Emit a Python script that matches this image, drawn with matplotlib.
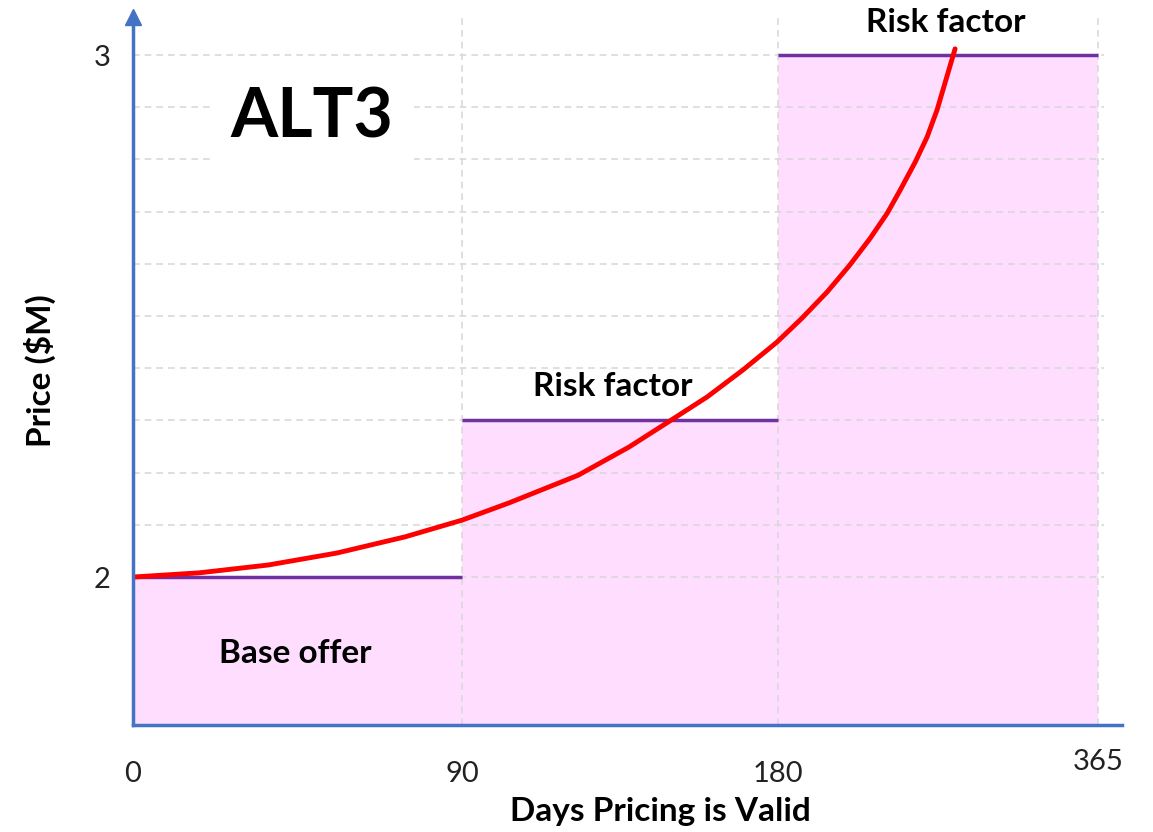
import numpy as np
import matplotlib.pyplot as plt
from matplotlib.transforms import ScaledTranslation

plt.rcParams['font.family'] = ['Lato', 'DejaVu Sans']

# x axis is drawn as periods, labelled in days
tick_pos = [0, 1.023, 2.006, 3.0]
tick_days = ['0', '90', '180', '365']

# price levels of the three periods ($M)
period_top = [2.0, 2.3, 3.0]
period_labels = ['Base offer', 'Risk factor', 'Risk factor']

# red price curve (x in axis units)
curve_pos = [0.000, 0.205, 0.420, 0.634, 0.846, 1.023, 1.169, 1.384, 1.542,
             1.664, 1.785, 1.897, 2.002, 2.080, 2.158, 2.229, 2.292, 2.345,
             2.385, 2.432, 2.469, 2.500, 2.534, 2.556]
curve_price = [2.000, 2.008, 2.023, 2.046, 2.077, 2.109, 2.142, 2.195, 2.249,
               2.297, 2.345, 2.397, 2.450, 2.496, 2.546, 2.598, 2.649, 2.697,
               2.741, 2.795, 2.843, 2.895, 2.966, 3.012]

blue = '#4472C4'
pink = '#FFDDFF'
purple = '#7030A0'
grid_c = '#D9D9D9'

fig = plt.figure(figsize=(11.53, 8.32), dpi=100)
ax = fig.add_axes([133 / 1153, 1 - 725 / 832, (1122 - 133) / 1153, (725 - 17) / 832])

y_lo, y_hi = 1.7165, 3.073
ax.set_xlim(0, 3.075)
ax.set_ylim(y_lo, y_hi)

# grid
ax.hlines(np.linspace(2.0, 3.0, 11), 0, 3.02, colors=grid_c, linestyles=(0, (4, 3)),
          linewidth=1.2, zorder=2)
ax.vlines(tick_pos[1:], y_lo, y_hi + 0.01, colors=grid_c, linestyles=(0, (4, 3)),
          linewidth=1.2, zorder=2)

# pink periods with purple caps
lefts = tick_pos[:-1]
rights = tick_pos[1:]
for left, right, top in zip(lefts, rights, period_top):
    ax.bar(left, top - y_lo, width=right - left, bottom=y_lo, align='edge',
           color=pink, edgecolor='none', zorder=1)
ax.hlines(period_top, lefts, rights, colors=purple, linewidth=2.5, zorder=3)

ax.plot(curve_pos, curve_price, color='#FF0000', linewidth=3.5,
        solid_capstyle='round', solid_joinstyle='round', zorder=5)

# text labels
ax.text(0.504, 1.854, period_labels[0], fontsize=24, fontweight='bold',
        ha='center', va='center', zorder=4)
ax.text(1.493, 2.366, period_labels[1], fontsize=24, fontweight='bold',
        ha='center', va='center', zorder=4,
        bbox=dict(facecolor='white', edgecolor='none', pad=2))
ax.text(2.528, 3.063, period_labels[2], fontsize=24, fontweight='bold',
        ha='center', va='center', zorder=4)
ax.text(0.557, 2.88, 'ALT3', fontsize=49, fontweight='bold', ha='center',
        va='center', zorder=4,
        bbox=dict(boxstyle='square,pad=0.3', facecolor='white', edgecolor='none'))

# axes
for s in ['top', 'right']:
    ax.spines[s].set_visible(False)
for s in ['left', 'bottom']:
    ax.spines[s].set_color(blue)
    ax.spines[s].set_linewidth(2.5)
    ax.spines[s].set_zorder(6)
ax.plot(0, 1, marker='^', color=blue, markersize=11, transform=ax.transAxes,
        clip_on=False, zorder=7)

ax.set_xticks(tick_pos)
ax.set_xticklabels(tick_days)
ax.set_yticks([2, 3])
ax.set_yticklabels(['2', '3'])
ax.tick_params(axis='both', length=0, labelsize=21, colors='#222222')
ax.tick_params(axis='x', pad=26)
ax.tick_params(axis='y', pad=16)
last = ax.get_xticklabels()[-1]
last.set_transform(last.get_transform() + ScaledTranslation(0, 0.12, fig.dpi_scale_trans))

ax.set_xlabel('Days Pricing is Valid', fontsize=24, fontweight='bold')
ax.set_ylabel('Price ($M)', fontsize=24, fontweight='bold')
ax.xaxis.set_label_coords(0.533, -0.122)
ax.yaxis.set_label_coords(-0.094, 0.5)
ax.xaxis.label.set_va('center')
ax.yaxis.label.set_va('center')

fig.savefig('out.png', dpi=100)
